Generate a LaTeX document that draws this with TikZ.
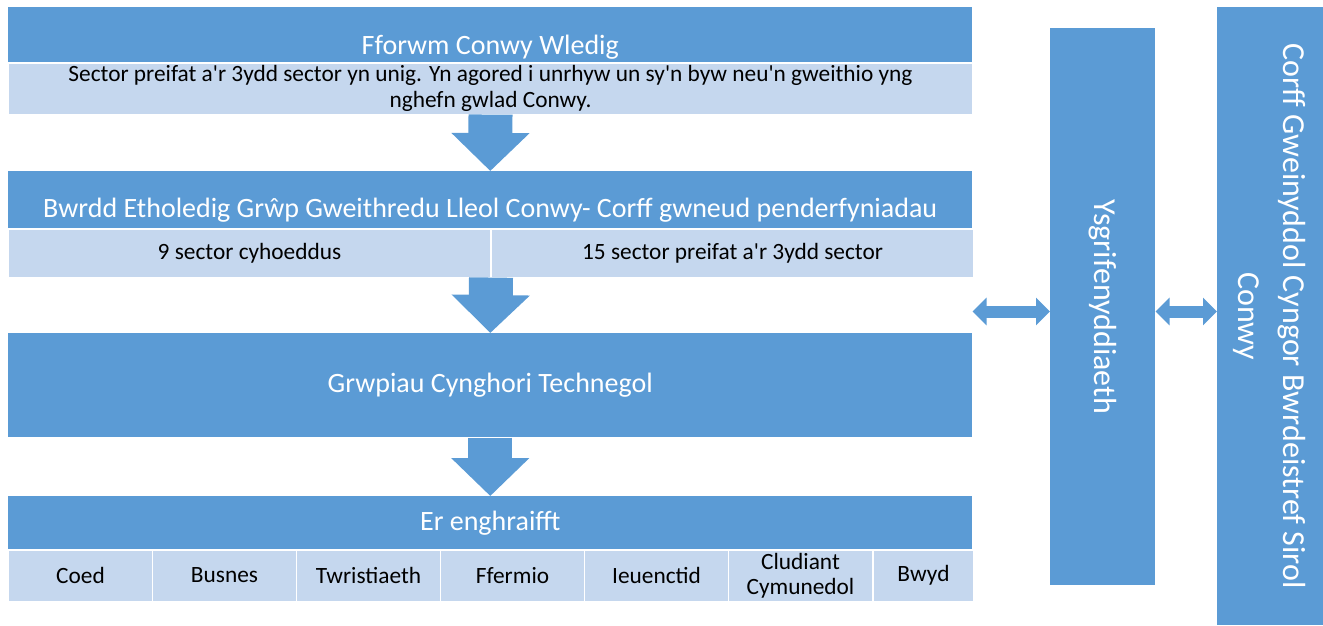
\documentclass[tikz,border=0pt]{standalone}
\usepackage{fontspec}
\setmainfont{Carlito}[Ligatures=TeXOff]
\usetikzlibrary{arrows.meta,positioning}

\definecolor{accent}{HTML}{5B9BD5}
\definecolor{tint}{HTML}{C5D7EE}

\tikzset{
  band/.style={fill=accent, text=white, inner sep=0pt, minimum width=723pt,
    font=\fontsize{21}{25}\selectfont, anchor=north west},
  cell/.style={fill=tint, draw=white, line width=0.75pt, inner sep=0pt,
    align=center, font=\fontsize{17.5}{19}\selectfont, anchor=north west},
  side/.style={fill=accent, text=white, inner sep=0pt,
    font=\fontsize{24}{33.75}\selectfont, anchor=north west},
  down/.style={accent, line width=33pt, -{Triangle[width=57pt,length=28.5pt]}},
  both/.style={accent, line width=9pt,
    {Triangle[width=20.25pt,length=10.5pt]}-{Triangle[width=20.25pt,length=10.5pt]}}
}

\begin{document}
\begin{tikzpicture}[x=0.75pt,y=-0.75pt]
  \useasboundingbox (0,0) rectangle (1323,625);

  % left column
  \node[band, text height=35.25pt, text depth=6pt] (fforwm) at (8,7) {Fforwm Conwy Wledig};
  \node[cell, minimum width=723pt, minimum height=38.25pt, font=\fontsize{17.5}{19.5}\selectfont]
    (fforwm-desc) at (fforwm.south west)
    {Sector preifat a'r 3ydd sector yn unig. Yn agored i unrhyw un sy'n byw neu'n gweithio yng\\nghefn gwlad Conwy.};

  \node[band, text height=34.5pt, text depth=8.25pt] (bwrdd) at (8,171)
    {Bwrdd Etholedig Grŵp Gweithredu Lleol Conwy- Corff gwneud penderfyniadau};
  \node[cell, minimum width=361.5pt, minimum height=36pt] (cyhoeddus) at (bwrdd.south west) {9 sector cyhoeddus};
  \node[cell, minimum width=361.5pt, minimum height=36pt] (preifat) at (cyhoeddus.north east) {15 sector preifat a'r 3ydd sector};

  \node[band, minimum height=78pt] (grwpiau) at (8,333) {Grwpiau Cynghori Technegol};

  \node[band, minimum height=39.75pt] (enghraifft) at (8,496) {Er enghraifft};
  \foreach \nm/\lbl [count=\i] in {coed/Coed, busnes/Busnes, twristiaeth/Twristiaeth,
      ffermio/Ffermio, ieuenctid/Ieuenctid, cludiant/{Cludiant\\Cymunedol}}
    \node[cell, minimum width=108pt, minimum height=38.25pt] (\nm)
      at ([xshift={(\i-1)*108pt}]enghraifft.south west) {\lbl};
  \node[cell, minimum width=75pt, minimum height=38.25pt] (bwyd) at (cludiant.north east) {Bwyd};

  \draw[down] (fforwm-desc.south) -- (bwrdd.north);
  \draw[down] (cyhoeddus.south east) -- (grwpiau.north);
  \draw[down] (grwpiau.south) -- (enghraifft.north);

  % right side
  \node[side, minimum width=78.75pt, minimum height=417.75pt] (ysg) at (1050,28)
    {\rotatebox{-90}{Ysgrifenyddiaeth}};
  \node[side, minimum width=79.5pt, minimum height=463.5pt] (corff) at (1217,7)
    {\rotatebox{-90}{\begin{tabular}{@{}c@{}}Corff Gweinyddol Cyngor Bwrdeistref Sirol\\Conwy\end{tabular}}};

  \coordinate (mid) at (0,311.5);
  \draw[both] (grwpiau.east |- mid) -- (ysg.west |- mid);
  \draw[both] (ysg.east |- mid) -- (corff.west |- mid);
\end{tikzpicture}
\end{document}
